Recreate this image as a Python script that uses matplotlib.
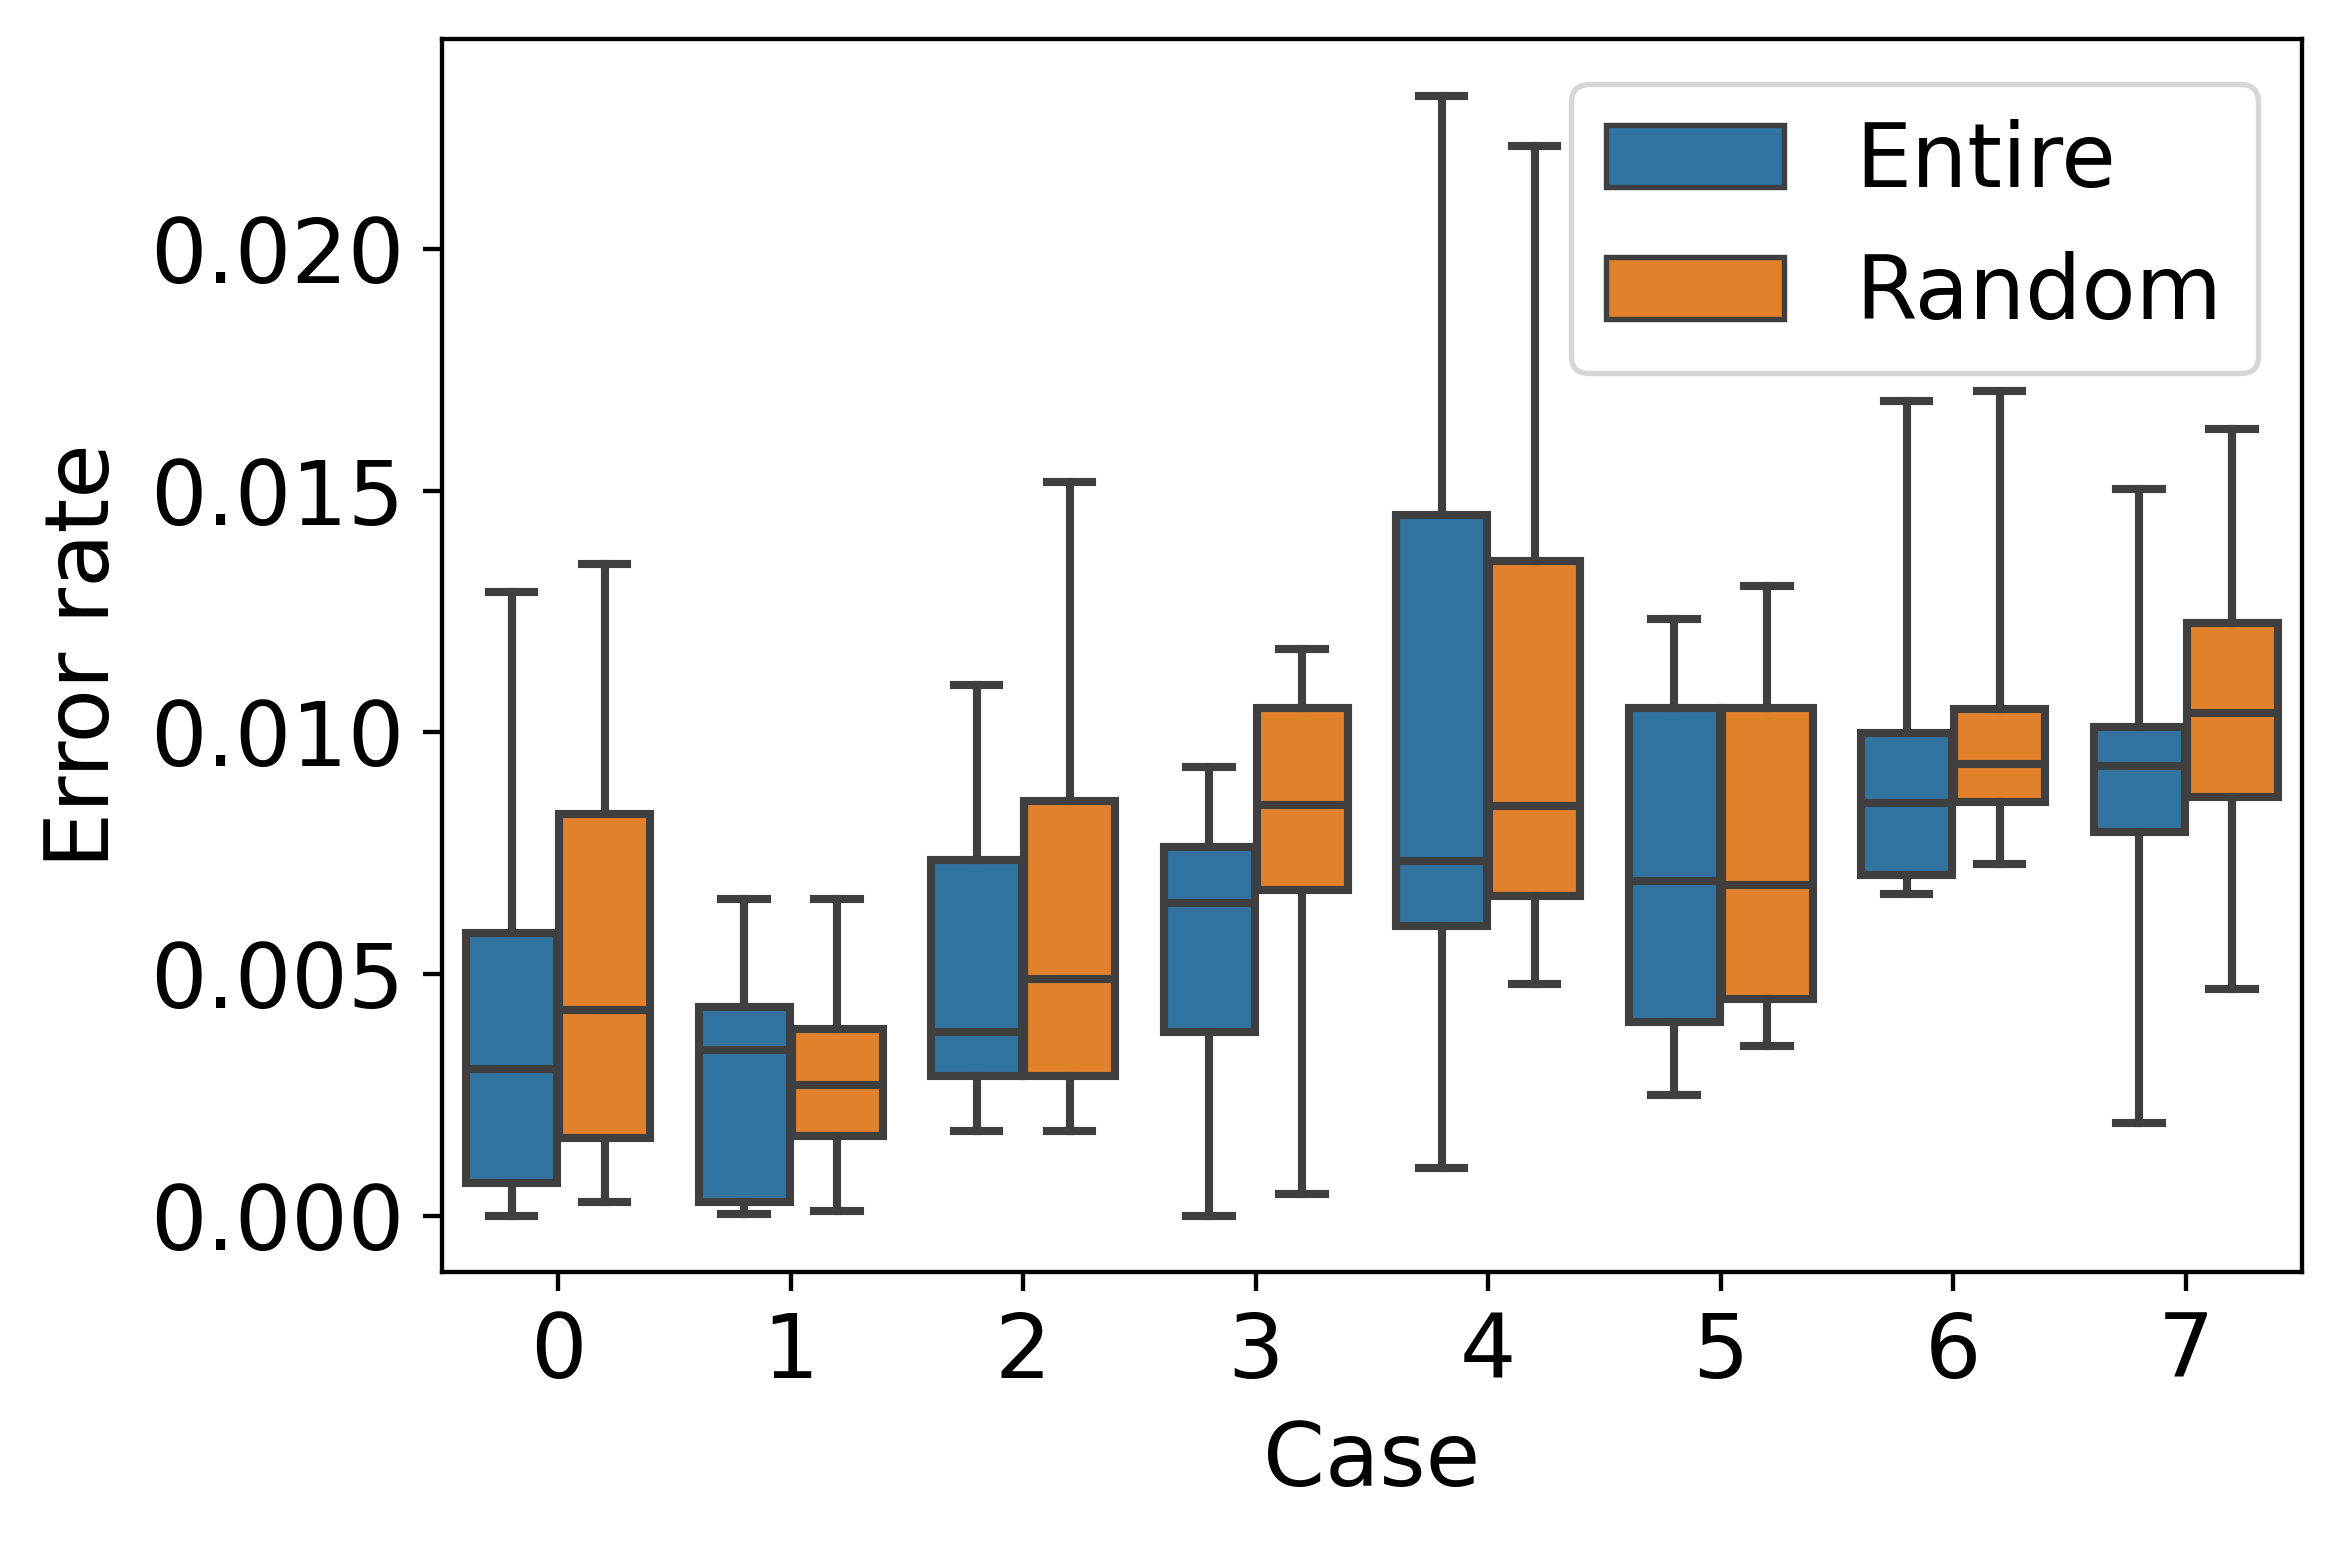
import matplotlib
matplotlib.use("Agg")
import matplotlib.pyplot as plt
from matplotlib.patches import Patch

# box statistics: whisker low, q1, median, q3, whisker high
cases = [0, 1, 2, 3, 4, 5, 6, 7]
groups = ["Entire", "Random"]

entire_lo = [0.0, 0.00003, 0.00175, 0.0, 0.00098, 0.0025, 0.00665, 0.00191]
entire_q1 = [0.00068, 0.00028, 0.00289, 0.0038, 0.006, 0.004, 0.00705, 0.00795]
entire_med = [0.00304, 0.00343, 0.00381, 0.00647, 0.00734, 0.00692, 0.00855, 0.0093]
entire_q3 = [0.00586, 0.00431, 0.00736, 0.00764, 0.0145, 0.01051, 0.00998, 0.01012]
entire_hi = [0.01291, 0.00656, 0.01098, 0.00929, 0.02318, 0.01235, 0.01686, 0.01504]

random_lo = [0.00028, 0.00009, 0.00175, 0.00044, 0.00479, 0.00351, 0.00728, 0.00469]
random_q1 = [0.0016, 0.00164, 0.00289, 0.00673, 0.00662, 0.00449, 0.00856, 0.00867]
random_med = [0.00425, 0.0027, 0.00489, 0.0085, 0.00847, 0.00685, 0.00935, 0.01041]
random_q3 = [0.00832, 0.00386, 0.00859, 0.01051, 0.01355, 0.01051, 0.01048, 0.01226]
random_hi = [0.01349, 0.00656, 0.01518, 0.01173, 0.02214, 0.01303, 0.01707, 0.01627]

colors = ["#3274a1", "#e1812c"]
gray = "#3f3f3f"

plt.rcParams["font.family"] = "DejaVu Sans"
plt.rcParams["font.size"] = 16.4

fig, ax = plt.subplots(figsize=(2342 / 390, 1547 / 390), dpi=390)
fig.subplots_adjust(left=0.1887, right=0.9829, bottom=0.1779, top=0.9745)


def make_stats(lo, q1, med, q3, hi):
    out = []
    for i in range(len(lo)):
        out.append({"whislo": lo[i], "q1": q1[i], "med": med[i],
                    "q3": q3[i], "whishi": hi[i], "fliers": []})
    return out


series = [
    make_stats(entire_lo, entire_q1, entire_med, entire_q3, entire_hi),
    make_stats(random_lo, random_q1, random_med, random_q3, random_hi),
]
offsets = [-0.2, 0.2]
w = 0.4 * 0.98

for stats, off, col in zip(series, offsets, colors):
    pos = [c + off for c in cases]
    bp = ax.bxp(stats, positions=pos, widths=w, patch_artist=True,
                showfliers=False,
                boxprops=dict(facecolor=col, edgecolor=gray, linewidth=1.5),
                whiskerprops=dict(color=gray, linewidth=1.5),
                capprops=dict(color=gray, linewidth=1.5),
                medianprops=dict(color=gray, linewidth=1.5))

ax.set_xlim(-0.5, 7.5)
ax.set_ylim(-0.00116, 0.02434)
ax.set_xticks(cases)
ax.set_xticklabels([str(c) for c in cases])
ax.set_yticks([0.0, 0.005, 0.010, 0.015, 0.020])
ax.set_yticklabels(["0.000", "0.005", "0.010", "0.015", "0.020"])
ax.set_xlabel("Case")
ax.set_ylabel("Error rate")

handles = [Patch(facecolor=c, edgecolor=gray, linewidth=1.0) for c in colors]
ax.legend(handles, groups, loc="upper right")

fig.savefig("out.png", dpi=390)
